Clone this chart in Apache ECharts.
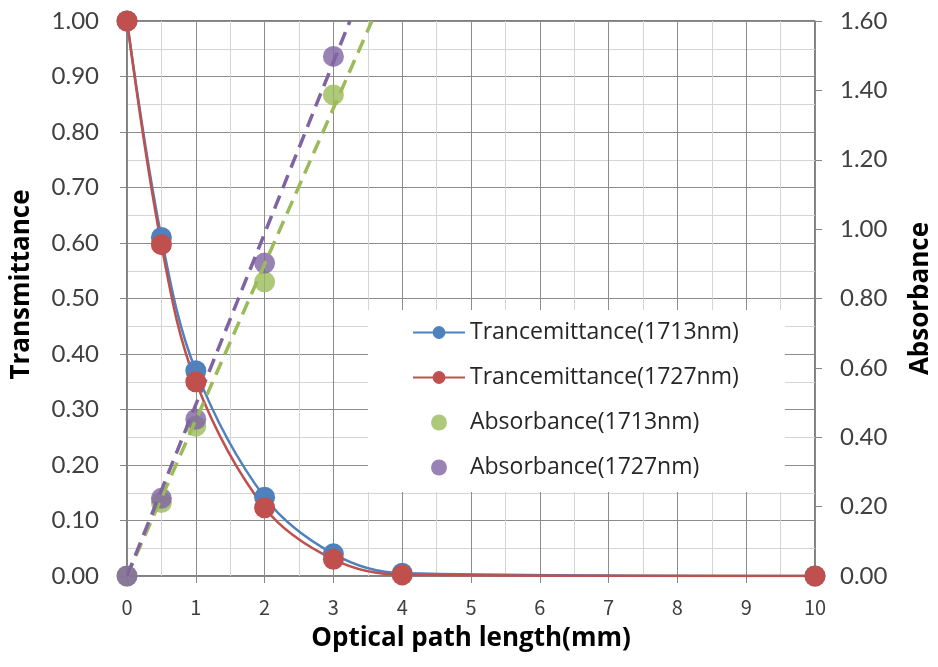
<!DOCTYPE html>
<html>
<head>
<meta charset="utf-8">
<script src="https://cdn.jsdelivr.net/npm/echarts@6/dist/echarts.min.js"></script>
<style>
  html, body { margin: 0; padding: 0; background: #fff; }
  #chart { width: 938px; height: 667px; }
</style>
</head>
<body>
<div id="chart"></div>
<script>
// optical path length (mm)
var pathLen = [0, 0.5, 1, 2, 3, 4, 10];
var trans1713 = [1.00, 0.61, 0.37, 0.142, 0.04, 0.005, 0.0];
var trans1727 = [1.00, 0.597, 0.35, 0.123, 0.03, 0.002, 0.0];

var absLen = [0, 0.5, 1, 2, 3];
var abs1713 = [0, 0.212, 0.432, 0.848, 1.387];
var abs1727 = [0, 0.224, 0.452, 0.902, 1.498];

// dashed trend lines, start and end
var trend1713 = [[0, 0], [3.56, 1.6]];
var trend1727 = [[0, 0], [3.24, 1.6]];

function pairs(xs, ys) {
    var out = [];
    for (var i = 0; i < xs.length; i++) {
        out.push([xs[i], ys[i]]);
    }
    return out;
}

var myChart = echarts.init(document.getElementById('chart'));

var tickFont = 'Lato, "Open Sans", sans-serif';
var titleFont = '"Open Sans", Lato, sans-serif';
var majorGrid = '#8c8c8c';
var minorGrid = '#d4d4d4';
var axisGray = '#868686';

var option = {
    animation: false,
    color: ['#4F81BD', '#C0504D', '#9BBB59', '#8064A2'],
    grid: {
        left: 127,
        right: 123,
        top: 21,
        bottom: 91,
        outerBoundsMode: 'none',
        show: true,
        borderColor: '#000',
        borderWidth: 1
    },
    legend: {
        orient: 'vertical',
        left: 368,
        top: 310,
        padding: [11, 46, 13, 44],
        backgroundColor: '#fff',
        itemWidth: 52,
        itemHeight: 16,
        itemGap: 22,
        textStyle: {
            fontFamily: titleFont,
            fontSize: 23,
            color: '#262626'
        },
        data: ['Trancemittance(1713nm)', 'Trancemittance(1727nm)', 'Absorbance(1713nm)', 'Absorbance(1727nm)']
    },
    xAxis: {
        type: 'value',
        min: 0,
        max: 10,
        interval: 1,
        name: 'Optical path length(mm)',
        nameLocation: 'middle',
        nameGap: 50,
        nameTextStyle: {
            fontFamily: titleFont,
            fontWeight: 'bold',
            fontSize: 26,
            color: '#000'
        },
        axisLine: { lineStyle: { color: axisGray } },
        axisTick: { show: true, length: 7, lineStyle: { color: axisGray } },
        axisLabel: {
            margin: 21,
            fontFamily: '"Noto Sans CJK JP", sans-serif',
            fontSize: 20,
            color: '#404040'
        },
        splitLine: { show: true, lineStyle: { color: majorGrid } },
        minorTick: { show: false, splitNumber: 2 },
        minorSplitLine: { show: true, lineStyle: { color: minorGrid } }
    },
    yAxis: [{
        type: 'value',
        min: 0,
        max: 1,
        interval: 0.1,
        name: 'Transmittance',
        nameLocation: 'middle',
        nameRotate: 90,
        nameGap: 92,
        nameTextStyle: {
            fontFamily: titleFont,
            fontWeight: 'bold',
            fontSize: 26,
            color: '#000',
            padding: [0, 0, 0, 28]
        },
        axisLine: { show: true, lineStyle: { color: axisGray } },
        axisTick: { show: true, length: 7, lineStyle: { color: axisGray } },
        axisLabel: {
            margin: 28,
            fontFamily: tickFont,
            fontSize: 24,
            color: '#404040',
            formatter: function (v) { return v.toFixed(2); }
        },
        splitLine: { show: true, lineStyle: { color: majorGrid } },
        minorTick: { show: false, splitNumber: 2 },
        minorSplitLine: { show: true, lineStyle: { color: minorGrid } }
    }, {
        type: 'value',
        min: 0,
        max: 1.6,
        interval: 0.2,
        position: 'right',
        name: 'Absorbance',
        nameLocation: 'middle',
        nameRotate: 90,
        nameGap: 93,
        nameTextStyle: {
            fontFamily: titleFont,
            fontWeight: 'bold',
            fontSize: 26,
            color: '#000'
        },
        axisLine: { show: true, lineStyle: { color: axisGray } },
        axisTick: { show: true, length: 7, lineStyle: { color: axisGray } },
        axisLabel: {
            margin: 25,
            fontFamily: tickFont,
            fontSize: 24,
            color: '#404040',
            formatter: function (v) { return v.toFixed(2); }
        },
        splitLine: { show: false }
    }],
    series: [{
        name: 'Trancemittance(1713nm)',
        type: 'line',
        yAxisIndex: 0,
        smooth: 0.35,
        symbol: 'circle',
        symbolSize: 21,
        lineStyle: { width: 2.5 },
        data: pairs(pathLen, trans1713)
    }, {
        name: 'Trancemittance(1727nm)',
        type: 'line',
        yAxisIndex: 0,
        smooth: 0.35,
        symbol: 'circle',
        symbolSize: 21,
        lineStyle: { width: 2.5 },
        data: pairs(pathLen, trans1727)
    }, {
        name: 'trend1713',
        type: 'line',
        yAxisIndex: 1,
        symbol: 'none',
        silent: true,
        lineStyle: { color: '#9BBB59', width: 3.5, type: [14, 8] },
        data: trend1713
    }, {
        name: 'trend1727',
        type: 'line',
        yAxisIndex: 1,
        symbol: 'none',
        silent: true,
        lineStyle: { color: '#8064A2', width: 3.5, type: [14, 8] },
        data: trend1727
    }, {
        name: 'Absorbance(1713nm)',
        type: 'scatter',
        yAxisIndex: 1,
        symbol: 'circle',
        symbolSize: 21,
        itemStyle: { color: '#9BBB59' },
        data: pairs(absLen, abs1713)
    }, {
        name: 'Absorbance(1727nm)',
        type: 'scatter',
        yAxisIndex: 1,
        symbol: 'circle',
        symbolSize: 21,
        itemStyle: { color: '#8064A2' },
        data: pairs(absLen, abs1727)
    }]
};

myChart.setOption(option);
</script>
</body>
</html>
